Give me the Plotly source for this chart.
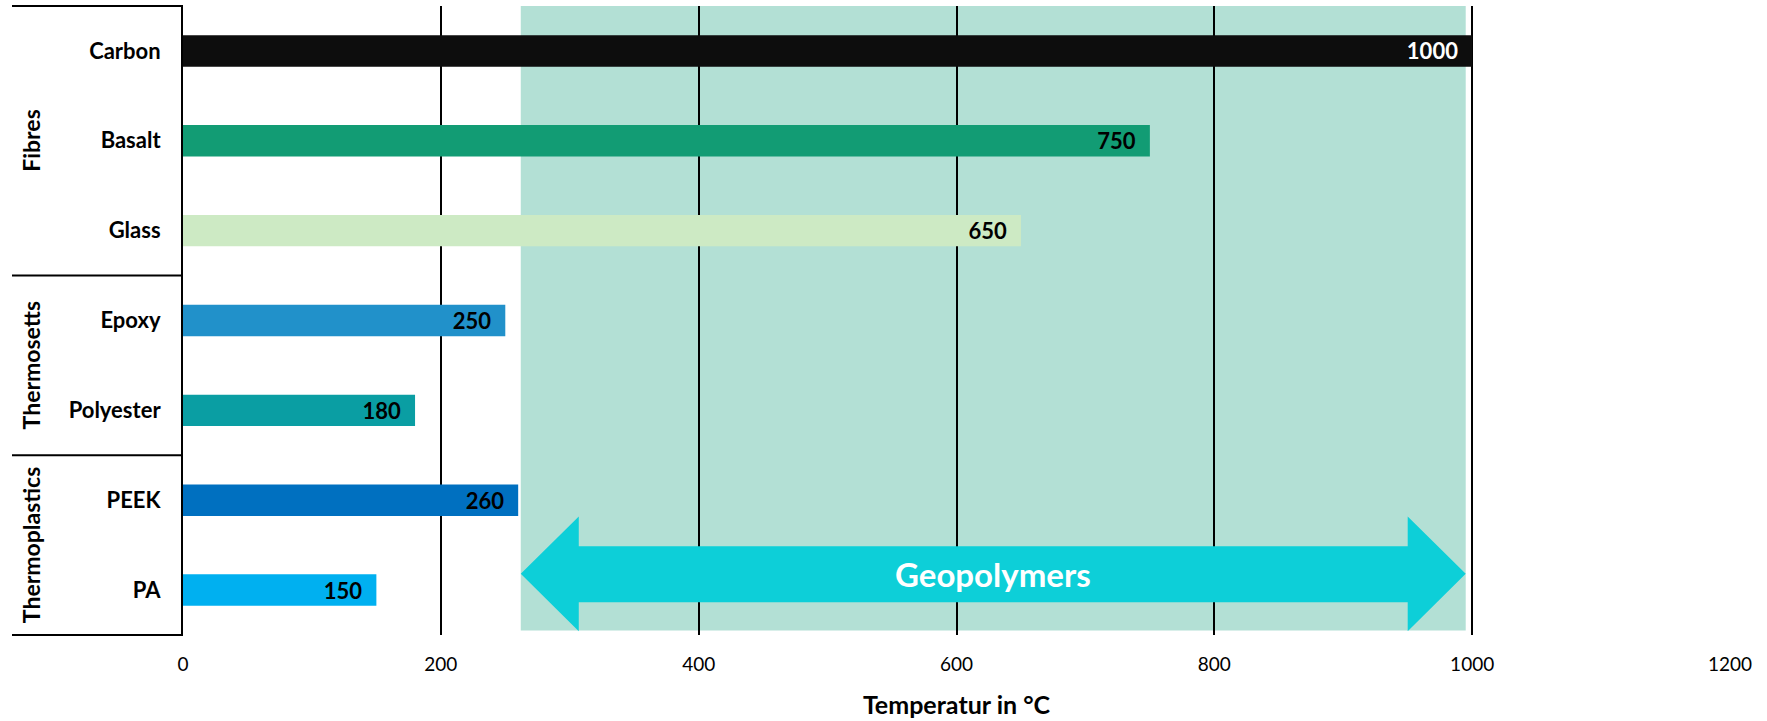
import plotly.graph_objects as go

# Maximum service temperature per material
materials = ["Carbon", "Basalt", "Glass", "Epoxy", "Polyester", "PEEK", "PA"]
temperatures = [1000, 750, 650, 250, 180, 260, 150]
bar_colors = ["#0d0d0d", "#129c74", "#cdeac4", "#2191ca", "#0a9ea3", "#0070c0", "#00b0f0"]
label_colors = ["white", "black", "black", "black", "black", "black", "black"]

# Material groups (name, first member, last member)
groups = [("Fibres", 0, 2), ("Thermosetts", 3, 4), ("Thermoplastics", 5, 6)]

# Temperature range covered by geopolymers
geo_range = [262, 995]
geo_head = 45  # arrow head length in °C

x_ticks = [0, 200, 400, 600, 800, 1000, 1200]

FONT = "Lato"
W, H = 1767, 721
ML, MR, MT, MB = 183, 37, 6, 80

fig = go.Figure()
fig.add_trace(go.Bar(
    x=temperatures, y=materials, orientation="h",
    marker=dict(color=bar_colors, line=dict(width=0)),
    width=0.35,
    texttemplate="<b>%{x}</b>\u00a0\u00a0",
    textposition="inside", insidetextanchor="end",
    textfont=dict(family=FONT, size=22, color=label_colors),
    constraintext="none", cliponaxis=False,
    hoverinfo="skip",
))

# Shaded geopolymer band (below gridlines)
fig.add_shape(type="rect", xref="x", yref="paper",
              x0=geo_range[0], x1=geo_range[1], y0=0.007, y1=1,
              fillcolor="#b3e0d5", line=dict(width=0), layer="below")

# Double-headed arrow across the geopolymer range
g0, g1 = geo_range
hb0, hb1 = g0 + geo_head, g1 - geo_head
yt, yb = 0.1885, 0.006   # head top/bottom (paper)
st, sb = 0.141, 0.052    # shaft top/bottom (paper)
ym = (yt + yb) / 2
path = (f"M {g0},{ym} L {hb0},{yt} L {hb0},{st} L {hb1},{st} L {hb1},{yt} "
        f"L {g1},{ym} L {hb1},{yb} L {hb1},{sb} L {hb0},{sb} L {hb0},{yb} Z")
fig.add_shape(type="path", xref="x", yref="paper", path=path,
              fillcolor="#0dcfd8", line=dict(width=0), layer="above")
fig.add_annotation(x=(g0 + g1) / 2, y=ym, xref="x", yref="paper",
                   xanchor="center", yanchor="middle",
                   text="<b>Geopolymers</b>", showarrow=False,
                   font=dict(family=FONT, size=33, color="white"))

# Group brackets and rotated group labels on the left
n = len(materials)
line_x0 = (12 - ML) / (W - ML - MR)
bounds = [1.0]
for name, a, b in groups:
    top = 1 - a / n
    bot = 1 - (b + 1) / n
    bounds.append(bot)
    fig.add_annotation(x=(31 - ML) / (W - ML - MR), y=(top + bot) / 2,
                       xref="paper", yref="paper", text=f"<b>{name}</b>",
                       xanchor="center", yanchor="middle",
                       textangle=-90, showarrow=False,
                       font=dict(family=FONT, size=23, color="black"))
for yv in bounds:
    fig.add_shape(type="line", xref="paper", yref="paper",
                  x0=line_x0, x1=0, y0=yv, y1=yv,
                  line=dict(color="black", width=2))

fig.update_layout(
    width=W, height=H,
    margin=dict(l=ML, r=MR, t=MT, b=MB),
    paper_bgcolor="white", plot_bgcolor="white",
    showlegend=False, bargap=0.65,
    font=dict(family=FONT, color="black"),
)
fig.update_xaxes(
    range=[0, 1200], tickvals=x_ticks,
    showgrid=True, gridcolor="black", gridwidth=1.5,
    zeroline=False, showline=False, ticks="",
    ticklabelstandoff=16,
    tickfont=dict(family=FONT, size=19, color="black"),
    title=dict(text="<b>Temperatur in °C</b>", standoff=22,
               font=dict(family=FONT, size=25, color="black")),
    fixedrange=True,
)
fig.update_yaxes(
    categoryorder="array", categoryarray=materials, autorange="reversed",
    showline=True, linecolor="black", linewidth=2,
    showgrid=False, ticks="", ticklabelstandoff=16,
    tickvals=materials, ticktext=[f"<b>{m}</b>" for m in materials],
    tickfont=dict(family=FONT, size=22, color="black"),
    fixedrange=True,
)

fig.write_html("out.html")
